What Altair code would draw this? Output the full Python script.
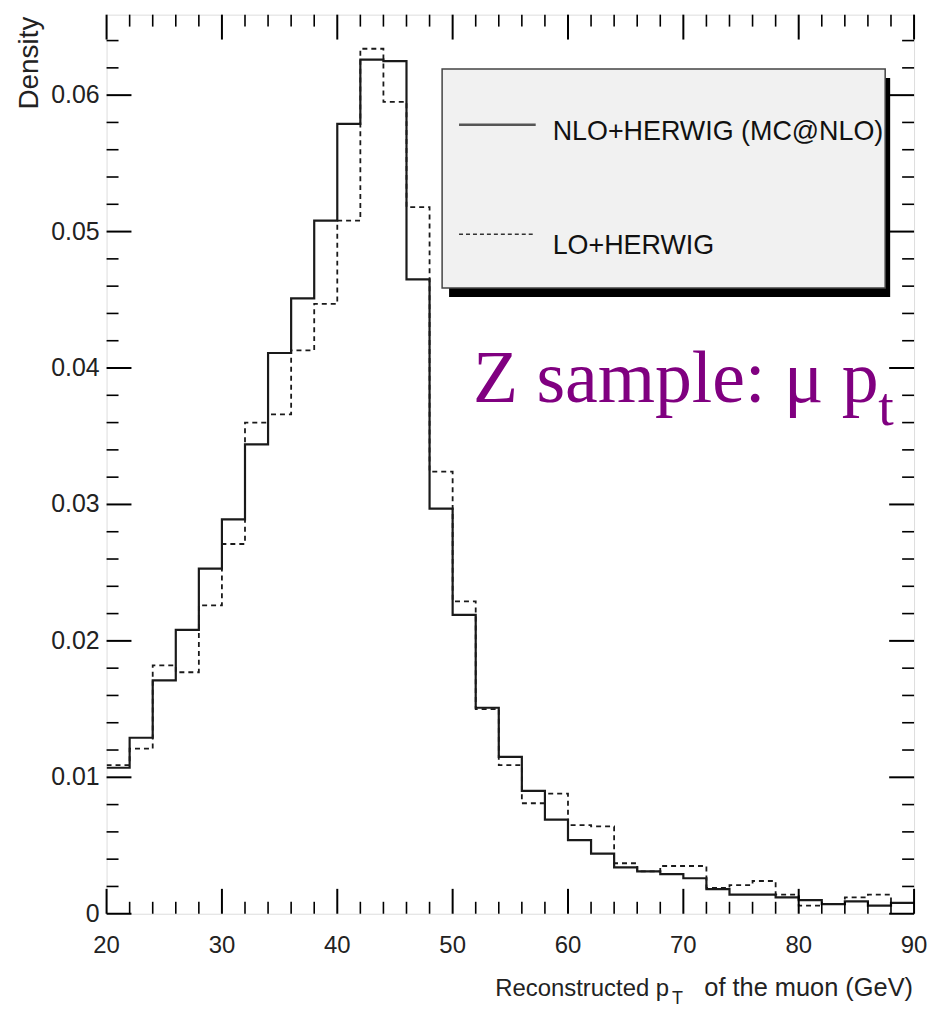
import altair as alt
import pandas as pd

# ---- data ----
bin_edges = [20, 22, 24, 26, 28, 30, 32, 34, 36, 38, 40, 42, 44, 46, 48, 50, 52, 54,
             56, 58, 60, 62, 64, 66, 68, 70, 72, 74, 76, 78, 80, 82, 84, 86, 88, 90]

nlo_density = [0.0107, 0.0129, 0.0171, 0.0208, 0.0253, 0.0289, 0.0344, 0.0411, 0.0451,
               0.0508, 0.0579, 0.0626, 0.0625, 0.0465, 0.0297, 0.0219, 0.0151, 0.0115,
               0.0090, 0.0069, 0.0054, 0.0044, 0.0034, 0.0031, 0.0029, 0.0026, 0.0018,
               0.0014, 0.0014, 0.0012, 0.0010, 0.0007, 0.0009, 0.0006, 0.0008]

lo_density = [0.0109, 0.0121, 0.0182, 0.0177, 0.0226, 0.0271, 0.0360, 0.0366, 0.0413,
              0.0447, 0.0508, 0.0634, 0.0595, 0.0518, 0.0324, 0.0229, 0.0150, 0.0109,
              0.0081, 0.0088, 0.0065, 0.0064, 0.0037, 0.0031, 0.0035, 0.0035, 0.0019,
              0.0021, 0.0024, 0.0014, 0.0006, 0.0007, 0.0012, 0.0014, 0.0008]

series_names = ["NLO+HERWIG (MC@NLO)", "LO+HERWIG"]

x_tick_labels = [20, 30, 40, 50, 60, 70, 80, 90]
y_tick_values = [0, 0.01, 0.02, 0.03, 0.04, 0.05, 0.06]
y_tick_text = ["0", "0.01", "0.02", "0.03", "0.04", "0.05", "0.06"]

x_major = x_tick_labels
x_minor = [e for e in bin_edges if e not in x_major]
y_major = y_tick_values
y_minor = [round(0.002 * i, 3) for i in range(33) if i % 5 != 0]


def step_frame(vals):
    pts = list(bin_edges[:-1]) + [bin_edges[-1]]
    ys = list(vals) + [vals[-1]]
    return pd.DataFrame({"pt": pts, "density": ys})


df_nlo = step_frame(nlo_density)
df_lo = step_frame(lo_density)

# ---- layout ----
W, H = 811, 903
FONT = "Liberation Sans, Arial, sans-serif"
MAJ, MIN = 25, 12

xscale = alt.Scale(domain=[20, 90], nice=False, zero=False)
yscale = alt.Scale(domain=[0, 0.0659], nice=False, zero=True)


def X(field="pt"):
    return alt.X(f"{field}:Q", scale=xscale, axis=None)


def Y(field="density"):
    return alt.Y(f"{field}:Q", scale=yscale, axis=None)


nlo_line = alt.Chart(df_nlo).mark_line(
    interpolate="step-after", color="#1a1a1a", strokeWidth=2.2, clip=True
).encode(x=X(), y=Y())

lo_line = alt.Chart(df_lo).mark_line(
    interpolate="step-after", color="#1a1a1a", strokeWidth=1.8, strokeDash=[5, 4], clip=True
).encode(x=X(), y=Y())


def xticks(vals, length, width):
    d = pd.DataFrame({"pt": vals})
    bottom = alt.Chart(d).mark_rule(color="black", strokeWidth=width).encode(
        x=X(), y=alt.value(H), y2=alt.value(H - length))
    top = alt.Chart(d).mark_rule(color="black", strokeWidth=width).encode(
        x=X(), y=alt.value(0), y2=alt.value(length))
    return [bottom, top]


def yticks(vals, length, width):
    d = pd.DataFrame({"density": vals})
    left = alt.Chart(d).mark_rule(color="black", strokeWidth=width).encode(
        y=Y(), x=alt.value(0), x2=alt.value(length))
    right = alt.Chart(d).mark_rule(color="black", strokeWidth=width).encode(
        y=Y(), x=alt.value(W), x2=alt.value(W - length))
    return [left, right]


ticks = (xticks(x_major, MAJ, 2) + xticks(x_minor, MIN, 1.6)
         + yticks(y_major, MAJ, 2) + yticks(y_minor, MIN, 1.6))

# tick labels drawn through the scales
xlab = alt.Chart(pd.DataFrame({"pt": x_tick_labels, "lab": [str(v) for v in x_tick_labels]})).mark_text(
    font=FONT, fontSize=24, color="#222", align="center", baseline="alphabetic"
).encode(x=X(), y=alt.value(H + 39.5), text="lab:N")

ylab = alt.Chart(pd.DataFrame({"density": y_tick_values, "lab": y_tick_text})).mark_text(
    font=FONT, fontSize=25, color="#222", align="right", baseline="middle"
).encode(y=Y(), x=alt.value(-7), text="lab:N")

one = alt.Data(values=[{"k": 1}])

# legend box with shadow
shadow = alt.Chart(one).mark_rect(color="black").encode(
    x=alt.value(344), x2=alt.value(787), y=alt.value(63.5), y2=alt.value(283.5))
box = alt.Chart(one).mark_rect(fill="#f1f1f1", stroke="#444", strokeWidth=1.5).encode(
    x=alt.value(337), x2=alt.value(782), y=alt.value(54.5), y2=alt.value(274.5))
leg_solid = alt.Chart(one).mark_rule(color="#555", strokeWidth=2.5).encode(
    x=alt.value(354), x2=alt.value(431), y=alt.value(110.5))
leg_dash = alt.Chart(one).mark_rule(color="#333", strokeWidth=1.5, strokeDash=[4, 3]).encode(
    x=alt.value(354), x2=alt.value(431), y=alt.value(220.5))
leg_t1 = alt.Chart(one).mark_text(text=series_names[0], font=FONT, fontSize=27, color="#111",
                                   align="left", baseline="alphabetic").encode(
    x=alt.value(448), y=alt.value(125.5))
leg_t2 = alt.Chart(one).mark_text(text=series_names[1], font=FONT, fontSize=27, color="#111",
                                   align="left", baseline="alphabetic").encode(
    x=alt.value(448), y=alt.value(240.5))

# purple annotation
ann_main = alt.Chart(one).mark_text(text="Z sample: μ p", font="Liberation Serif", fontSize=74,
                                     color="#800080", align="left", baseline="alphabetic").encode(
    x=alt.value(368), y=alt.value(389.5))
ann_sub = alt.Chart(one).mark_text(text="t", font="Liberation Serif", fontSize=56,
                                    color="#800080", align="left", baseline="alphabetic").encode(
    x=alt.value(775), y=alt.value(412.5))

# axis titles
ytitle = alt.Chart(one).mark_text(text="Density", font=FONT, fontSize=28, color="#222",
                                   angle=270, align="right", baseline="alphabetic").encode(
    x=alt.value(-69), y=alt.value(2))
xt1 = alt.Chart(one).mark_text(text="Reconstructed p", font=FONT, fontSize=24, color="#222",
                                align="right", baseline="alphabetic").encode(
    x=alt.value(565), y=alt.value(985.5))
xt2 = alt.Chart(one).mark_text(text="T", font=FONT, fontSize=18, color="#222",
                                align="left", baseline="alphabetic").encode(
    x=alt.value(568), y=alt.value(994))
xt3 = alt.Chart(one).mark_text(text="of the muon (GeV)", font=FONT, fontSize=25.5, color="#222",
                                align="right", baseline="alphabetic").encode(
    x=alt.value(810), y=alt.value(985.5))

chart = alt.layer(
    nlo_line, lo_line, *ticks, xlab, ylab, shadow, box, leg_solid, leg_dash, leg_t1, leg_t2,
    ann_main, ann_sub, ytitle, xt1, xt2, xt3
).properties(
    width=W, height=H,
    autosize=alt.AutoSizeParams(type="none"),
    padding={"left": 99, "top": 4.5, "right": 13, "bottom": 95},
).configure_view(
    stroke="black", strokeWidth=3.5
).configure(background="white")

chart.save("out.html", embed_options={"renderer": "svg", "actions": False})
